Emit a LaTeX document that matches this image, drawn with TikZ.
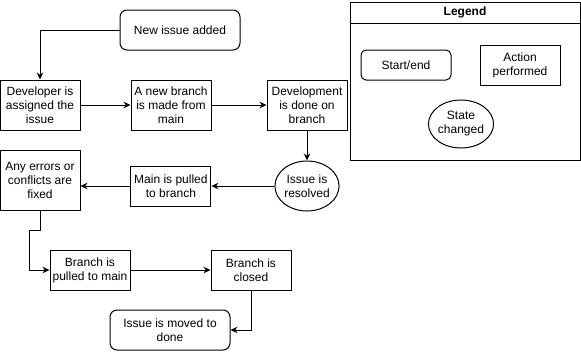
\documentclass[tikz,border=0pt]{standalone}
\usepackage{fontspec}
\setmainfont{Liberation Sans}
\usepackage{tikz}
\usetikzlibrary{positioning,arrows.meta,shapes.geometric,calc}

\begin{document}
\begin{tikzpicture}[
  x=1pt, y=1pt,
  font=\fontsize{12}{14}\selectfont,
  >={Stealth[length=7pt,width=6.5pt]},
  term/.style={draw, line width=1pt, rounded corners=7pt, minimum width=120pt,
               minimum height=40pt, align=center, fill=white},
  act/.style={draw, line width=1pt, minimum width=80pt, minimum height=40pt,
              inner sep=1pt, align=center, fill=white},
  state/.style={draw, line width=1pt, ellipse, inner sep=0pt, minimum width=64pt,
                minimum height=50pt, align=center, fill=white},
  arr/.style={->, line width=1pt},
]
\useasboundingbox (0,0) rectangle (581,-351);

% main flow
\node[term] (start) at (180,-30) {New issue added};
\node[act, minimum height=50pt] (assign) at (40,-105) {Developer is\\assigned the\\issue};
\node[act, minimum height=50pt, right=50pt of assign] (newbr) {A new branch\\is made from\\main};
\node[act, minimum height=50pt, right=55pt of newbr] (devdone) {Development\\is done on\\branch};
\node[state, below=30pt of devdone] (resolved) {Issue is\\resolved};
\node[act, left=63pt of resolved] (pullmain) {Main is pulled\\to branch};
\node[act, minimum height=60pt] (fixed) at (40,-180) {Any errors or\\conflicts are\\fixed};
\node[act] (merge) at (90,-270) {Branch is\\pulled to main};
\node[act, right=80pt of merge] (closed) {Branch is\\closed};
\node[term] (done) at (170,-330) {Issue is moved to\\done};

\draw[arr] (start.west) -| (assign.north);
\draw[arr] (assign) -- (newbr);
\draw[arr] (newbr) -- (devdone);
\draw[arr] (devdone) -- (resolved);
\draw[arr] (resolved) -- (pullmain);
\draw[arr] (pullmain.west) -- (pullmain.west -| fixed.east);
\draw[arr] (fixed.south) -- ++(0,-20) -| ($(merge.west)+(-20,0)$) -- (merge.west);
\draw[arr] (merge) -- (closed);
\draw[arr] (closed.south) |- (done.east);

% legend
\node[draw, line width=1pt, minimum width=230pt, minimum height=158pt] (legend) at (465,-81) {};
\node[draw, line width=1pt, anchor=north, minimum width=230pt, minimum height=21pt,
      font=\fontsize{12}{14}\selectfont\bfseries] (lgdtitle) at (legend.north) {Legend};
\node[term, rounded corners=5pt, minimum width=90pt, minimum height=30pt] (lgdterm) at (406,-65) {Start/end};
\node[act] (lgdact) at (520,-65) {Action\\performed};
\node[state, minimum width=61pt, minimum height=48pt] (lgdstate) at (461,-124) {State\\changed};
\end{tikzpicture}
\end{document}
